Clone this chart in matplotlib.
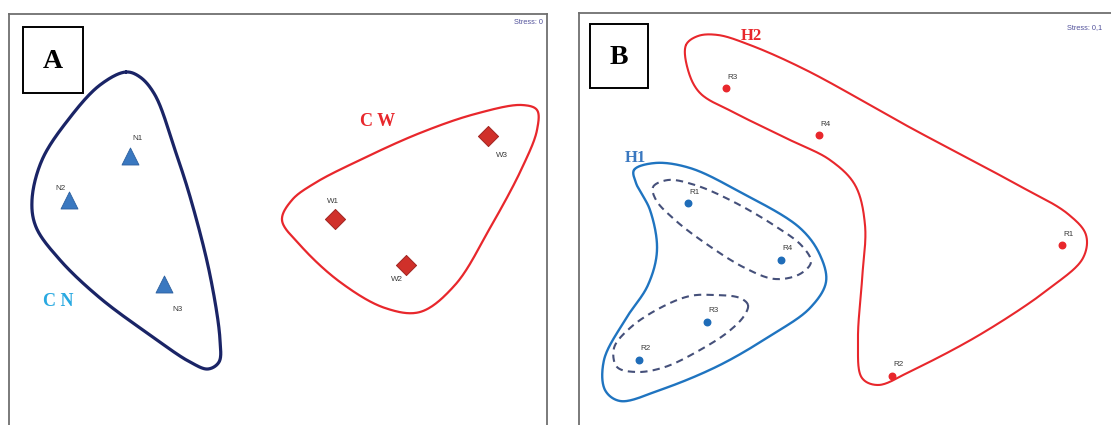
"""Two-panel NMDS ordination figure with hand-drawn group outlines."""

import matplotlib

matplotlib.use("Agg")

import matplotlib.pyplot as plt
import numpy as np
from matplotlib.patches import Rectangle

# ---------------------------------------------------------------- data (A)
n_labels = ["N1", "N2", "N3"]
n_x = [130, 69, 164]
n_y = [156, 200, 284]
w_labels = ["W1", "W2", "W3"]
w_x = [335, 406, 488]
w_y = [219, 265, 136]

# group outlines (control points of closed smooth curves)
cn_outline = [(126, 72), (140, 77), (155, 95), (175, 150), (191, 200), (210, 275),
              (220, 340), (219, 362), (208, 369), (190, 362), (150, 335), (100, 298),
              (60, 260), (36, 227), (32, 200), (42, 160), (68, 120), (100, 85)]
cw_outline = [(282, 220), (292, 200), (315, 183), (360, 160), (420, 133), (475, 114),
              (522, 105), (537, 110), (537, 130), (522, 168), (490, 228), (455, 285),
              (420, 312), (385, 308), (340, 282), (300, 245)]

# ---------------------------------------------------------------- data (B)
h2_labels = ["R3", "R4", "R1", "R2"]
h2_x = [726, 819, 1062, 892]
h2_y = [88, 135, 245, 376]
h1_labels = ["R1", "R4", "R3", "R2"]
h1_x = [688, 781, 707, 639]
h1_y = [203, 260, 322, 360]

h2_outline = [(686, 45), (698, 36), (718, 35), (750, 45), (806, 70), (911, 128),
              (1016, 184), (1068, 214), (1086, 235), (1083, 258), (1050, 288),
              (981, 334), (911, 371), (878, 385), (862, 378), (858, 340), (862, 280),
              (865, 225), (855, 185), (830, 160), (790, 140), (735, 113), (700, 93),
              (688, 70)]
h1_outline = [(634, 170), (655, 163), (690, 168), (740, 192), (800, 228), (820, 255),
              (826, 282), (810, 308), (770, 336), (718, 366), (660, 390), (620, 401),
              (605, 390), (604, 360), (625, 320), (648, 285), (657, 250), (650, 210),
              (636, 183)]
sub1_outline = [(653, 187), (668, 180), (695, 185), (730, 200), (772, 224), (802, 246),
                (811, 262), (800, 274), (775, 279), (745, 268), (705, 243), (675, 220),
                (656, 200)]
sub2_outline = [(748, 305), (740, 298), (715, 295), (690, 296), (660, 308), (630, 328),
                (614, 348), (617, 367), (637, 372), (665, 367), (700, 350), (728, 332),
                (744, 316)]

W, H = 1111, 425


def smooth_closed(points, n=30, alpha=0.5):
    """Closed centripetal Catmull-Rom curve through the control points."""
    p = np.asarray(points, dtype=float)
    m = len(p)
    out = []
    for i in range(m):
        p0, p1, p2, p3 = p[i - 1], p[i], p[(i + 1) % m], p[(i + 2) % m]
        t0 = 0.0
        t1 = t0 + np.linalg.norm(p1 - p0) ** alpha
        t2 = t1 + np.linalg.norm(p2 - p1) ** alpha
        t3 = t2 + np.linalg.norm(p3 - p2) ** alpha
        t = np.linspace(t1, t2, n, endpoint=False)[:, None]
        a1 = (t1 - t) / (t1 - t0) * p0 + (t - t0) / (t1 - t0) * p1
        a2 = (t2 - t) / (t2 - t1) * p1 + (t - t1) / (t2 - t1) * p2
        a3 = (t3 - t) / (t3 - t2) * p2 + (t - t2) / (t3 - t2) * p3
        b1 = (t2 - t) / (t2 - t0) * a1 + (t - t0) / (t2 - t0) * a2
        b2 = (t3 - t) / (t3 - t1) * a2 + (t - t1) / (t3 - t1) * a3
        out.append((t2 - t) / (t2 - t1) * b1 + (t - t1) / (t2 - t1) * b2)
    curve = np.vstack(out)
    return np.vstack([curve, curve[:1]])


def panel_axes(fig, left, right, top, bottom):
    ax = fig.add_axes([left / W, 1 - bottom / H, (right - left) / W, (bottom - top) / H])
    ax.set_xlim(left, right)
    ax.set_ylim(bottom, top)
    ax.set_xticks([])
    ax.set_yticks([])
    for spine in ax.spines.values():
        spine.set_color("#6f6f6f")
        spine.set_linewidth(1.3)
    return ax


def draw_outline(ax, outline, **style):
    c = smooth_closed(outline)
    ax.plot(c[:, 0], c[:, 1], solid_capstyle="round", **style)


def letter_box(ax, x0, y0, x1, y1, letter):
    ax.add_patch(Rectangle((x0, y0), x1 - x0, y1 - y0, fill=False, edgecolor="black",
                           linewidth=1.4, zorder=5))
    ax.text((x0 + x1) / 2, (y0 + y1) / 2 + 1, letter, ha="center", va="center",
            fontsize=20, fontweight="bold", family="Liberation Serif", zorder=6)


def point_labels(ax, xs, ys, labels, offsets):
    for x, y, lab in zip(xs, ys, labels):
        ax.annotate(lab, (x, y), xytext=offsets.get(lab, (1, 11)),
                    textcoords="offset pixels", fontsize=5.8, color="#3a3a3a",
                    family="Liberation Sans", ha="left", va="center")


fig = plt.figure(figsize=(W / 100, H / 100), dpi=100)
fig.patch.set_facecolor("white")

# ------------------------------------------------------------------ panel A
ax_a = panel_axes(fig, 9, 547, 14, 445)
draw_outline(ax_a, cn_outline, color="#1a2466", linewidth=2.3)
draw_outline(ax_a, cw_outline, color="#e8272c", linewidth=1.6)
ax_a.scatter(n_x, n_y, marker="^", s=150, color="#3a78c0", edgecolor="#2c5f9e",
             linewidth=0.6, zorder=4)
ax_a.scatter(w_x, w_y, marker="D", s=105, color="#d0302a", edgecolor="#a02420",
             linewidth=0.7, zorder=4)
off_a = {"N1": (2, 18), "N2": (-14, 12), "N3": (8, -25), "W1": (-8, 18),
         "W2": (-15, -14), "W3": (8, -19)}
point_labels(ax_a, n_x, n_y, n_labels, off_a)
point_labels(ax_a, w_x, w_y, w_labels, off_a)
ax_a.text(58, 301, "C N", ha="center", va="center", fontsize=13, fontweight="bold",
          family="Liberation Serif", color="#29a9e1")
ax_a.text(378, 121, "C W", ha="center", va="center", fontsize=13, fontweight="bold",
          family="Liberation Serif", color="#e8272c")
ax_a.text(543, 22, "Stress: 0", ha="right", va="center", fontsize=5.3,
          color="#50509a", family="Liberation Sans")
letter_box(ax_a, 23, 27, 83, 93, "A")

# ------------------------------------------------------------------ panel B
ax_b = panel_axes(fig, 579, 1130, 13, 445)
draw_outline(ax_b, h2_outline, color="#e8272c", linewidth=1.5)
draw_outline(ax_b, h1_outline, color="#1f74c0", linewidth=1.7)
for outline in (sub1_outline, sub2_outline):
    draw_outline(ax_b, outline, color="#45507a", linewidth=1.5, linestyle=(0, (3.5, 2.5)))
ax_b.scatter(h2_x, h2_y, s=22, color="#e8272c", zorder=4)
ax_b.scatter(h1_x, h1_y, s=22, color="#1f6cb8", zorder=4)
point_labels(ax_b, h2_x, h2_y, h2_labels, {})
point_labels(ax_b, h1_x, h1_y, h1_labels, {})
ax_b.text(751, 36, "H2", ha="center", va="center", fontsize=12, fontweight="bold",
          family="Liberation Serif", color="#e8272c")
ax_b.text(635, 158, "H1", ha="center", va="center", fontsize=12, fontweight="bold",
          family="Liberation Serif", color="#3a78c0")
ax_b.text(1102, 28, "Stress: 0,1", ha="right", va="center", fontsize=5.3,
          color="#50509a", family="Liberation Sans")
letter_box(ax_b, 590, 24, 648, 88, "B")

fig.savefig("out.png", dpi=100, facecolor="white")
